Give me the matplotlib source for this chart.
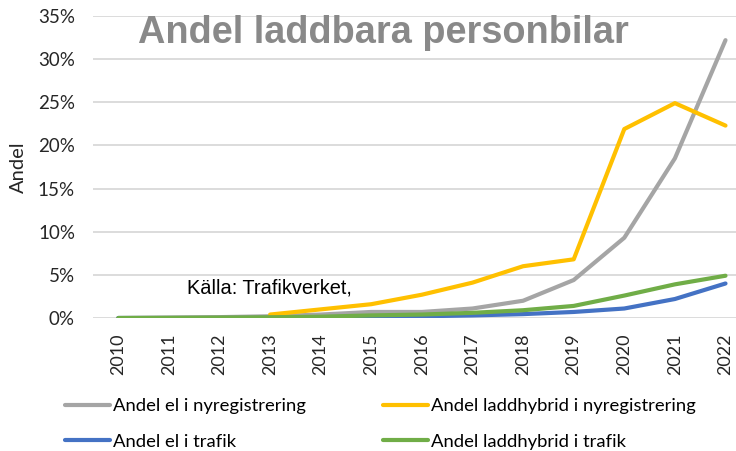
import matplotlib
matplotlib.use('Agg')
import matplotlib.pyplot as plt
from matplotlib import font_manager
import numpy as np

# Data (share of passenger cars, %)
years = [2010, 2011, 2012, 2013, 2014, 2015, 2016, 2017, 2018, 2019, 2020, 2021, 2022]
el_nyreg = [0.0, 0.05, 0.1, 0.2, 0.4, 0.7, 0.7, 1.1, 2.0, 4.4, 9.3, 18.5, 32.2]
ladd_nyreg = [np.nan, np.nan, np.nan, 0.4, 1.0, 1.6, 2.7, 4.1, 6.0, 6.8, 21.9, 24.9, 22.3]
el_trafik = [0.0, 0.0, 0.0, 0.02, 0.05, 0.1, 0.2, 0.3, 0.45, 0.7, 1.1, 2.2, 4.0]
ladd_trafik = [0.0, 0.02, 0.05, 0.08, 0.15, 0.3, 0.4, 0.6, 0.9, 1.4, 2.6, 3.9, 4.9]

labels = ['Andel el i nyregistrering', 'Andel laddhybrid i nyregistrering',
          'Andel el i trafik', 'Andel laddhybrid i trafik']
colors = ['#A5A5A5', '#FFC000', '#4472C4', '#70AD47']
yticks = [0, 5, 10, 15, 20, 25, 30, 35]

names = {f.name for f in font_manager.fontManager.ttflist}
narrow = 'Liberation Sans Narrow' if 'Liberation Sans Narrow' in names else 'Lato'

W, H = 736, 451
fig = plt.figure(figsize=(W / 100, H / 100), dpi=100)
ax = fig.add_axes([93 / W, 133 / H, (W - 93) / W, (318 - 16) / H])

lines = []
for vals, lab, col in zip([el_nyreg, ladd_nyreg, el_trafik, ladd_trafik], labels, colors):
    ln, = ax.plot(years, vals, color=col, lw=3, label=lab, solid_capstyle='round')
    lines.append(ln)

ax.set_xlim(2009.5, 2009.5 + (W - 93) / 50.6)
ax.set_ylim(0, 35)
ax.set_yticks(yticks)
ax.set_yticklabels([f'{v}%' for v in yticks], family=narrow, fontsize=13.5, color='#262626')
ax.set_xticks(years)
ax.set_xticklabels([str(y) for y in years], rotation=90, family=narrow, fontsize=13, color='#262626')
ax.tick_params(axis='y', length=0, pad=13)
ax.tick_params(axis='x', length=0, pad=11)
ax.grid(axis='y', color='#D9D9D9', lw=1.3)
ax.set_axisbelow(True)
for s in ax.spines.values():
    s.set_visible(False)

ax.set_ylabel('Andel', family=narrow, fontsize=14.5, color='#262626')
ax.yaxis.set_label_coords((27 - 93) / (W - 93), 0.5)

fig.text(383 / W, 1 - 43 / H, 'Andel laddbara personbilar', ha='center', va='baseline',
         family='Liberation Sans', fontweight='bold', fontsize=27.3, color='#898989')
fig.text(187 / W, 1 - 293 / H, 'Källa: Trafikverket,', ha='left', va='baseline',
         family='Liberation Sans', fontsize=14.4, color='black')

# column-wise fill order so rows read gray/yellow, blue/green
order = [0, 2, 1, 3]
fig.legend([lines[i] for i in order], [labels[i] for i in order],
           loc='upper left', bbox_to_anchor=(65 / W, 1 - 398 / H), ncol=2, frameon=False,
           prop={'family': narrow, 'size': 13.3}, handlelength=2.43, handletextpad=0.16,
           columnspacing=4.2, labelspacing=1.07, borderpad=0, borderaxespad=0)

fig.savefig('out.png', dpi=100)
